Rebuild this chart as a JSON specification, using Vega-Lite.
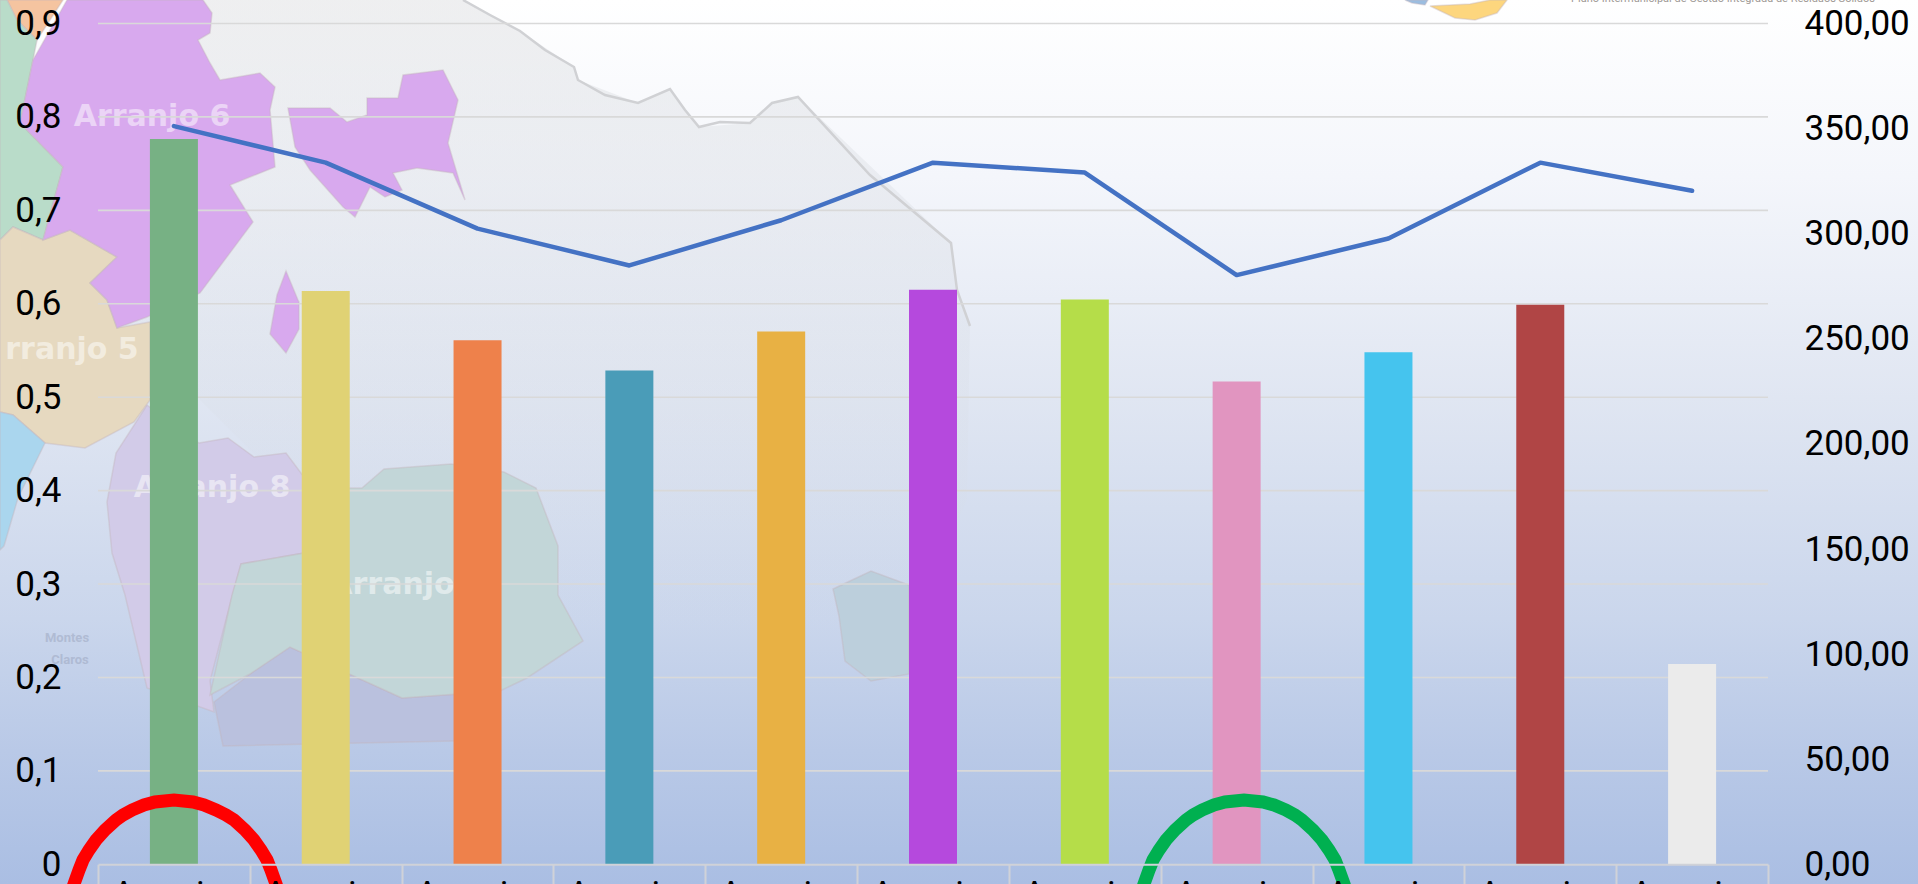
{"$schema":"https://vega.github.io/schema/vega-lite/v6.json","width":1670,"height":840.8,"autosize":"none","padding":{"left":98,"top":23.5,"right":150,"bottom":19.7},"background":"#ffffff","config":{"view":{"stroke":null}},"resolve":{"scale":{"y":"independent","color":"independent"},"axis":{"y":"independent"}},"layer":[
{"data":{"values":[{"type":"Feature","properties":{"name":"fundo"},"geometry":{"type":"Polygon","coordinates":[[[0,0],[1918,0],[1918,884],[0,884],[0,0]]]}}]},"mark":{"type":"geoshape","clip":false,"strokeWidth":0,"fill":{"x1":0,"y1":0,"x2":0,"y2":1,"gradient":"linear","stops":[{"offset":0,"color":"#ffffff"},{"offset":0.2,"color":"#f4f6fb"},{"offset":0.45,"color":"#e0e6f2"},{"offset":0.7,"color":"#cad6ec"},{"offset":0.85,"color":"#b9c9e7"},{"offset":1,"color":"#aabee3"}]}},"projection":{"type":"identity","scale":1,"translate":[-98,-23.5]}},
{"data":{"values":[{"type":"Feature","properties":{"name":"cinza"},"geometry":{"type":"Polygon","coordinates":[[[100,0],[463,0],[520,31],[574,67],[578,80],[638,103],[670,89],[699,127],[750,123],[772,103],[798,97],[951,243],[957,290],[970,326],[967,500],[900,640],[500,640],[300,500],[100,300],[100,0]]]}}]},"mark":{"type":"geoshape","clip":false,"strokeWidth":0,"fill":{"x1":0,"y1":0,"x2":0,"y2":1,"gradient":"linear","stops":[{"offset":0,"color":"rgba(225,226,228,0.55)"},{"offset":0.5,"color":"rgba(215,220,228,0.3)"},{"offset":1,"color":"rgba(215,220,228,0)"}]}},"projection":{"type":"identity","scale":1,"translate":[-98,-23.5]}},
{"data":{"values":[{"type":"Feature","properties":{"name":"contorno"},"geometry":{"type":"LineString","coordinates":[[463,0],[490,15],[520,31],[545,50],[574,67],[578,80],[605,95],[638,103],[670,89],[685,110],[699,127],[720,122],[750,123],[772,103],[798,97],[870,175],[951,243],[957,290],[970,326]]}}]},"mark":{"type":"geoshape","clip":false,"filled":false,"stroke":"#d0d1d4","strokeWidth":2.5},"projection":{"type":"identity","scale":1,"translate":[-98,-23.5]}},
{"data":{"values":[
{"type":"Feature","properties":{"name":"arranjo8"},"geometry":{"type":"Polygon","coordinates":[[[199,443],[228,438],[254,457],[286,453],[304,477],[304,553],[241,564],[228,612],[210,681],[214,712],[147,688],[125,595],[112,553],[107,502],[116,453],[147,405],[199,443]]]}},
{"type":"Feature","properties":{"name":"arranjo8b"},"geometry":{"type":"Polygon","coordinates":[[[290,647],[254,671],[214,702],[223,746],[500,740],[500,691],[402,698],[290,647]]]}},
{"type":"Feature","properties":{"name":"verde"},"geometry":{"type":"Polygon","coordinates":[[[362,488],[384,469],[451,464],[504,472],[536,488],[558,546],[558,595],[583,641],[527,678],[500,691],[402,698],[290,647],[250,674],[210,695],[232,595],[241,564],[304,553],[304,488],[362,488]]]}},
{"type":"Feature","properties":{"name":"ilha"},"geometry":{"type":"Polygon","coordinates":[[[833,589],[852,580],[871,571],[909,585],[909,674],[871,681],[845,661],[839,616],[833,589]]]}},
{"type":"Feature","properties":{"name":"laranja"},"geometry":{"type":"Polygon","coordinates":[[[7,0],[63,0],[37,40],[17,20],[7,0]]]}},
{"type":"Feature","properties":{"name":"verdeclaro"},"geometry":{"type":"Polygon","coordinates":[[[0,0],[7,0],[17,20],[37,40],[33,60],[20,123],[63,167],[43,240],[13,227],[0,240],[0,0]]]}},
{"type":"Feature","properties":{"name":"bege"},"geometry":{"type":"Polygon","coordinates":[[[0,240],[13,227],[43,240],[70,230],[117,257],[90,283],[107,300],[117,328],[150,322],[150,400],[134,422],[85,448],[45,443],[13,415],[0,412],[0,240]]]}},
{"type":"Feature","properties":{"name":"azul"},"geometry":{"type":"Polygon","coordinates":[[[0,412],[13,415],[45,443],[18,498],[4,546],[0,550],[0,412]]]}},
{"type":"Feature","properties":{"name":"lilas"},"geometry":{"type":"Polygon","coordinates":[[[67,0],[203,0],[212,13],[210,33],[198,40],[210,63],[220,80],[260,73],[275,87],[270,110],[275,167],[230,185],[253,222],[200,293],[147,317],[117,328],[107,300],[90,283],[117,257],[70,230],[43,240],[63,167],[20,123],[33,60],[67,0]]]}},
{"type":"Feature","properties":{"name":"lilas"},"geometry":{"type":"Polygon","coordinates":[[[288,108],[330,108],[347,122],[367,115],[367,98],[398,98],[403,75],[443,70],[458,100],[448,143],[465,200],[453,173],[417,168],[393,173],[402,190],[385,197],[370,187],[355,217],[343,207],[310,170],[295,147],[288,108]]]}},
{"type":"Feature","properties":{"name":"lilas"},"geometry":{"type":"Polygon","coordinates":[[[286,271],[298,300],[299,302],[299,329],[286,353],[270,334],[277,295],[286,271]]]}},
{"type":"Feature","properties":{"name":"logoamarelo"},"geometry":{"type":"Polygon","coordinates":[[[1430,6],[1470,4],[1490,0],[1507,0],[1497,13],[1475,20],[1455,18],[1430,6]]]}},
{"type":"Feature","properties":{"name":"logoazul"},"geometry":{"type":"Polygon","coordinates":[[[1405,0],[1428,0],[1425,5],[1412,3],[1405,0]]]}}
]},"mark":{"type":"geoshape","clip":false,"strokeWidth":1.5},"encoding":{"color":{"field":"properties.name","type":"nominal","legend":null,"scale":{"domain":["arranjo8","arranjo8b","verde","ilha","laranja","verdeclaro","bege","azul","lilas","logoamarelo","logoazul"],"range":["#d2cbe8","#bac1de","#c2d6d8","#bccfdc","#f5c4a0","#b9dcc9","#e6d9c0","#aad6ee","#d8a9ee","#fdd67e","#9bbde0"]}},"stroke":{"value":"#c4b4bc"},"strokeOpacity":{"value":0.4}},"projection":{"type":"identity","scale":1,"translate":[-98,-23.5]}},
{"data":{"values":[{"t":"Arranjo 6","px":152,"py":117},{"t":"rranjo 5","px":72,"py":350},{"t":"Arranjo 8","px":212,"py":488},{"t":"Arranjo","px":392,"py":585}]},"mark":{"type":"text","clip":false,"font":"DejaVu Sans","fontWeight":"bold","fontSize":30,"color":"#ffffff","opacity":0.5},"encoding":{"longitude":{"field":"px","type":"quantitative"},"latitude":{"field":"py","type":"quantitative"},"text":{"field":"t"}},"projection":{"type":"identity","scale":1,"translate":[-98,-23.5]}},
{"data":{"values":[{"t":"Montes","px":67,"py":638},{"t":"Claros","px":70,"py":660}]},"mark":{"type":"text","clip":false,"font":"Roboto","fontWeight":"bold","fontSize":13,"color":"#9aa4bd","opacity":0.5},"encoding":{"longitude":{"field":"px","type":"quantitative"},"latitude":{"field":"py","type":"quantitative"},"text":{"field":"t"}},"projection":{"type":"identity","scale":1,"translate":[-98,-23.5]}},
{"data":{"values":[{"t":"Plano Intermunicipal de Gestão Integrada de Resíduos Sólidos","px":1723,"py":2}]},"mark":{"type":"text","clip":false,"font":"Roboto","fontSize":11,"baseline":"alphabetic","color":"#a09a96"},"encoding":{"longitude":{"field":"px","type":"quantitative"},"latitude":{"field":"py","type":"quantitative"},"text":{"field":"t"}},"projection":{"type":"identity","scale":1,"translate":[-98,-23.5]}},
{"data":{"values":[{"v":0.1},{"v":0.2},{"v":0.3},{"v":0.4},{"v":0.5},{"v":0.6},{"v":0.7},{"v":0.8},{"v":0.9}]},"mark":{"type":"rule","color":"#d9d9d9","strokeWidth":1.6},"encoding":{"y":{"field":"v","type":"quantitative","scale":{"domain":[0,0.9]},"axis":null}}},
{"data":{"name":"dados","values":[
{"arranjo":"Arranjo 1","indice":0.7764,"custo":351.2},
{"arranjo":"Arranjo 2","indice":0.6137,"custo":333.8},
{"arranjo":"Arranjo 3","indice":0.561,"custo":302.4},
{"arranjo":"Arranjo 4","indice":0.5286,"custo":284.9},
{"arranjo":"Arranjo 5","indice":0.5704,"custo":306.4},
{"arranjo":"Arranjo 6","indice":0.615,"custo":333.8},
{"arranjo":"Arranjo 7","indice":0.6045,"custo":329.1},
{"arranjo":"Arranjo 8","indice":0.5168,"custo":280.3},
{"arranjo":"Arranjo 9","indice":0.548,"custo":297.7},
{"arranjo":"Arranjo 10","indice":0.599,"custo":333.8},
{"arranjo":"Arranjo 11","indice":0.2144,"custo":320.4}
]},"layer":[
{"mark":{"type":"bar","width":48},"encoding":{"x":{"field":"arranjo","type":"nominal","sort":null,"title":null,"scale":{"paddingInner":0,"paddingOuter":0},"axis":{"zindex":1,"tickBand":"extent","tickSize":30,"tickWidth":2,"tickColor":"#d0d2d8","domainColor":"#d0d2d8","domainWidth":2,"labelAngle":0,"labelFont":"Roboto","labelFontSize":35,"labelColor":"#000000","labelBaseline":"top","labelOverlap":false,"labelPadding":-17,"labelOffset":-6,"labelExpr":"split(datum.label,' ')","labelLineHeight":40}},"y":{"field":"indice","type":"quantitative","title":null,"scale":{"domain":[0,0.9]},"axis":{"orient":"left","zindex":1,"values":[0,0.1,0.2,0.3,0.4,0.5,0.6,0.7,0.8,0.9],"grid":false,"domain":false,"ticks":false,"labelFont":"Roboto","labelFontSize":35,"labelColor":"#000000","labelPadding":37,"labelExpr":"replace(format(datum.value,'.1~f'),'.',',')"}},"color":{"field":"arranjo","type":"nominal","legend":null,"sort":null,"scale":{"domain":["Arranjo 1","Arranjo 2","Arranjo 3","Arranjo 4","Arranjo 5","Arranjo 6","Arranjo 7","Arranjo 8","Arranjo 9","Arranjo 10","Arranjo 11"],"range":["#77b184","#e0d274","#ee814b","#4a9cb8","#e8b144","#b549dd","#b5dd49","#e195c0","#45c4ee","#b04545","#ebebeb"]}}}},
{"mark":{"type":"line","color":"#4472c4","strokeWidth":4.5,"strokeCap":"round","strokeJoin":"round"},"encoding":{"x":{"field":"arranjo","type":"nominal","sort":null},"y":{"field":"custo","type":"quantitative","title":null,"scale":{"domain":[0,400]},"axis":{"orient":"right","zindex":1,"values":[0,50,100,150,200,250,300,350,400],"grid":false,"domain":false,"ticks":false,"labelFont":"Roboto","labelFontSize":35,"labelColor":"#000000","labelPadding":36,"labelAlign":"left","labelExpr":"replace(format(datum.value,'.2f'),'.',',')"}}}}
],"resolve":{"scale":{"y":"independent","color":"independent"},"axis":{"y":"independent"}}},
{"data":{"values":[{"type":"Feature","properties":{"name":"vermelho"},"geometry":{"type":"LineString","coordinates":[[72,890],[74,884],[79,870],[83,860],[89,850],[96,840],[105,830],[116,820],[123,815],[132,810],[144,805],[155,802],[174,800],[193,802],[204,805],[216,810],[226,815],[234,820],[245,830],[254,840],[261,850],[267,860],[271,870],[276,884],[278,890]]}},{"type":"Feature","properties":{"name":"verde"},"geometry":{"type":"LineString","coordinates":[[1142,890],[1144,884],[1149,870],[1153,860],[1159,850],[1166,840],[1175,830],[1186,820],[1193,815],[1202,810],[1214,805],[1225,802],[1244,800],[1263,802],[1274,805],[1286,810],[1295,815],[1302,820],[1313,830],[1322,840],[1329,850],[1335,860],[1339,870],[1344,884],[1346,890]]}}]},"mark":{"type":"geoshape","clip":false,"filled":false,"strokeWidth":13},"encoding":{"stroke":{"field":"properties.name","type":"nominal","legend":null,"scale":{"domain":["vermelho","verde"],"range":["#ff0000","#00b050"]}}},"projection":{"type":"identity","scale":1,"translate":[-98,-23.5]}}
]}
